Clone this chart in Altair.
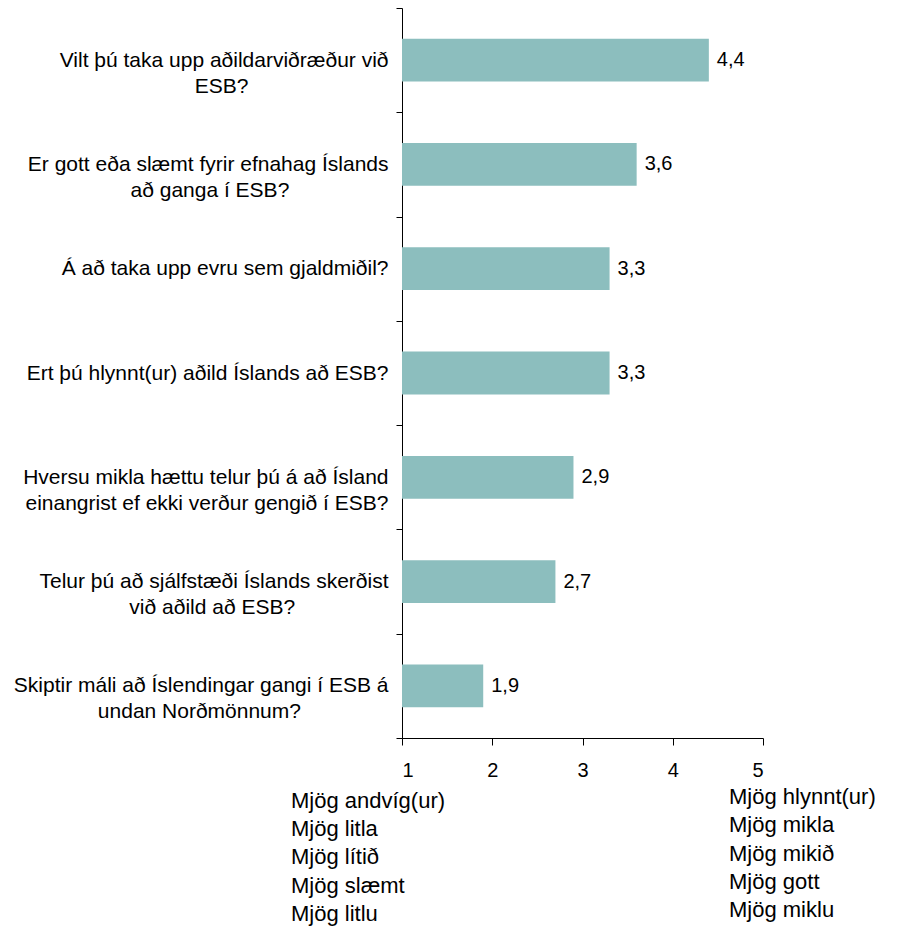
import altair as alt
import pandas as pd

# ---- data ----
questions = [
    "Vilt þú taka upp aðildarviðræður við\nESB?",
    "Er gott eða slæmt fyrir efnahag Íslands\nað ganga í ESB?",
    "Á að taka upp evru sem gjaldmiðil?",
    "Ert þú hlynnt(ur) aðild Íslands að ESB?",
    "Hversu mikla hættu telur þú á að Ísland\neinangrist ef ekki verður gengið í ESB?",
    "Telur þú að sjálfstæði Íslands skerðist\nvið aðild að ESB?",
    "Skiptir máli að Íslendingar gangi í ESB á\nundan Norðmönnum?",
]
values = [4.4, 3.6, 3.3, 3.3, 2.9, 2.7, 1.9]
x_ticks = [1, 2, 3, 4, 5]
low_lines = ["Mjög andvíg(ur)", "Mjög litla", "Mjög lítið", "Mjög slæmt", "Mjög litlu"]
high_lines = ["Mjög hlynnt(ur)", "Mjög mikla", "Mjög mikið", "Mjög gott", "Mjög miklu"]

FONT = "Liberation Sans"
BAR_COLOR = "#8cbebe"

# approximate Arial advance widths (1/1000 em) to centre short lines under long ones
W = {' ': 278, '\u00a0': 278, 'a': 556, 'b': 556, 'c': 500, 'd': 556, 'e': 556, 'f': 278,
     'g': 556, 'h': 556, 'i': 222, 'j': 222, 'k': 500, 'l': 222, 'm': 833, 'n': 556,
     'o': 556, 'p': 556, 'r': 333, 's': 500, 't': 278, 'u': 556, 'v': 500, 'y': 500,
     'ð': 556, 'þ': 556, 'æ': 889, 'ö': 556, 'ú': 556, 'í': 278, 'á': 556, 'Á': 667,
     'Í': 278, 'E': 667, 'S': 667, 'B': 667, 'H': 722, 'V': 667, 'T': 611, 'N': 722,
     '?': 556, '(': 333, ')': 333}


def tw(s):
    return sum(W.get(c, 556) for c in s)


def centred(q):
    # lines are right-aligned by the axis; pad shorter lines with no-break spaces
    # (closed by a word joiner so they are not trimmed) so they sit centred
    lines = q.split("\n")
    if len(lines) == 1:
        return lines[0]
    wmax = max(tw(l) for l in lines)
    out = []
    for l in lines:
        pad = int(round((wmax - tw(l)) / 2 / 278))
        out.append(l + ("\u00a0" * pad + "\u2060" if pad > 0 else ""))
    return "|".join(out)


labels = [centred(q) for q in questions]
df = pd.DataFrame({"question": labels, "value": values})
order = labels

y_enc = alt.Y(
    "question:N",
    sort=order,
    scale=alt.Scale(paddingInner=0, paddingOuter=0),
    axis=alt.Axis(
        title=None,
        labelExpr="split(datum.label, '|')",
        labelFont=FONT,
        labelFontSize=21,
        labelLineHeight=26,
        labelColor="black",
        labelLimit=600,
        labelPadding=8,
        tickBand="extent",
        tickSize=6,
        tickColor="black",
        domainColor="black",
        grid=False,
    ),
)

x_scale = alt.Scale(domain=[1, 5], nice=False, zero=False)

bars = alt.Chart(df).mark_bar(color=BAR_COLOR, height={"band": 0.41}).encode(
    x=alt.X(
        "value:Q",
        scale=x_scale,
        axis=alt.Axis(
            title=None,
            values=x_ticks,
            format="d",
            labelFont=FONT,
            labelFontSize=20,
            labelColor="black",
            labelPadding=15,
            tickSize=7,
            tickColor="black",
            domainColor="black",
            grid=False,
        ),
    ),
    x2=alt.datum(1),
    y=y_enc,
)

value_text = alt.Chart(df).transform_calculate(
    lab="replace(format(datum.value, '.1f'), '.', ',')"
).mark_text(align="left", baseline="middle", dx=8, font=FONT, fontSize=20, color="black").encode(
    x=alt.X("value:Q", scale=x_scale),
    y=alt.Y("question:N", sort=order),
    text="lab:N",
)

low_df = pd.DataFrame({"t": ["\n".join(low_lines)]})
high_df = pd.DataFrame({"t": ["\n".join(high_lines)]})

low_text = alt.Chart(low_df).mark_text(
    align="left", baseline="top", lineBreak="\n", lineHeight=28.2,
    font=FONT, fontSize=22, color="black"
).encode(x=alt.value(-111), y=alt.value(783), text="t:N")

high_text = alt.Chart(high_df).mark_text(
    align="left", baseline="top", lineBreak="\n", lineHeight=28.3,
    font=FONT, fontSize=22, color="black"
).encode(x=alt.value(327), y=alt.value(779), text="t:N")

chart = alt.layer(bars, value_text, low_text, high_text).properties(
    width=361,
    height=730,
    autosize=alt.AutoSizeParams(type="none"),
    padding={"left": 394, "top": 0, "right": 137, "bottom": 188},
).configure_view(stroke=None)

chart.save("out.html", embed_options={"renderer": "svg", "actions": False})
